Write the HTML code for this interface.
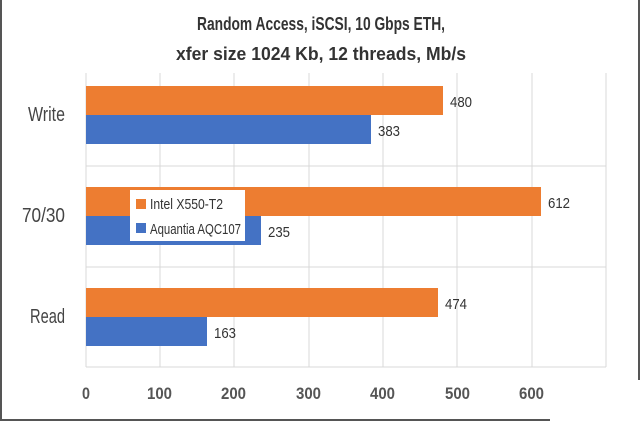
<!DOCTYPE html><html><head><style>body{margin:0;background:#fff}</style></head><body>
<svg width="640" height="421" xmlns="http://www.w3.org/2000/svg" font-family="'Liberation Sans',sans-serif">
<rect width="640" height="421" fill="#fff"/>
<line x1="1" y1="0" x2="1" y2="421" stroke="#555" stroke-width="2"/>
<line x1="0" y1="420" x2="550" y2="420" stroke="#555" stroke-width="2"/>
<line x1="639" y1="0" x2="639" y2="380" stroke="#555" stroke-width="2"/>
<text x="197" y="30" font-size="18" font-weight="bold" fill="#333" textLength="248" lengthAdjust="spacingAndGlyphs">Random Access, iSCSI, 10 Gbps ETH,</text>
<text x="176" y="60" font-size="18" font-weight="bold" fill="#333" textLength="290" lengthAdjust="spacingAndGlyphs">xfer size 1024 Kb, 12 threads, Mb/s</text>
<g stroke="#d9d9d9" stroke-width="1">
<line x1="160" y1="73" x2="160" y2="367"/><line x1="234" y1="73" x2="234" y2="367"/><line x1="309" y1="73" x2="309" y2="367"/><line x1="383" y1="73" x2="383" y2="367"/><line x1="457" y1="73" x2="457" y2="367"/><line x1="532" y1="73" x2="532" y2="367"/><line x1="606" y1="73" x2="606" y2="367"/>
<line x1="86" y1="166" x2="606" y2="166"/><line x1="86" y1="267" x2="606" y2="267"/><line x1="86" y1="367" x2="606" y2="367"/><line x1="86" y1="73" x2="86" y2="367"/>
</g>
<g fill="#ed7d31"><rect x="86" y="86" width="357" height="29"/><rect x="86" y="187" width="455" height="29"/><rect x="86" y="288" width="352" height="29"/></g>
<g fill="#4472c4"><rect x="86" y="115" width="285" height="29"/><rect x="86" y="216" width="175" height="29"/><rect x="86" y="317" width="121" height="29"/></g>
<g font-size="15" fill="#333">
<text x="450" y="107" textLength="22" lengthAdjust="spacingAndGlyphs">480</text><text x="378" y="136" textLength="22" lengthAdjust="spacingAndGlyphs">383</text>
<text x="548" y="208" textLength="22" lengthAdjust="spacingAndGlyphs">612</text><text x="268" y="237" textLength="22" lengthAdjust="spacingAndGlyphs">235</text>
<text x="445" y="309" textLength="22" lengthAdjust="spacingAndGlyphs">474</text><text x="214" y="338" textLength="22" lengthAdjust="spacingAndGlyphs">163</text>
</g>
<g font-size="20" fill="#444">
<text x="28" y="121" textLength="37" lengthAdjust="spacingAndGlyphs">Write</text><text x="22" y="222" textLength="43" lengthAdjust="spacingAndGlyphs">70/30</text><text x="30" y="323" textLength="35" lengthAdjust="spacingAndGlyphs">Read</text>
</g>
<g font-size="17" font-weight="bold" fill="#555">
<text x="82" y="399" textLength="8" lengthAdjust="spacingAndGlyphs">0</text>
<text x="147" y="399" textLength="25" lengthAdjust="spacingAndGlyphs">100</text>
<text x="221" y="399" textLength="25" lengthAdjust="spacingAndGlyphs">200</text>
<text x="296" y="399" textLength="25" lengthAdjust="spacingAndGlyphs">300</text>
<text x="370" y="399" textLength="25" lengthAdjust="spacingAndGlyphs">400</text>
<text x="445" y="399" textLength="25" lengthAdjust="spacingAndGlyphs">500</text>
<text x="519" y="399" textLength="25" lengthAdjust="spacingAndGlyphs">600</text>
</g>
<rect x="130" y="190" width="115" height="51" fill="#fff"/>
<rect x="136" y="199" width="10" height="10" fill="#ed7d31"/>
<rect x="136" y="223" width="10" height="10" fill="#4472c4"/>
<g font-size="15" fill="#333"><text x="150" y="209" textLength="73" lengthAdjust="spacingAndGlyphs">Intel X550-T2</text><text x="150" y="234" textLength="91" lengthAdjust="spacingAndGlyphs">Aquantia AQC107</text></g>
</svg>
</body></html>
